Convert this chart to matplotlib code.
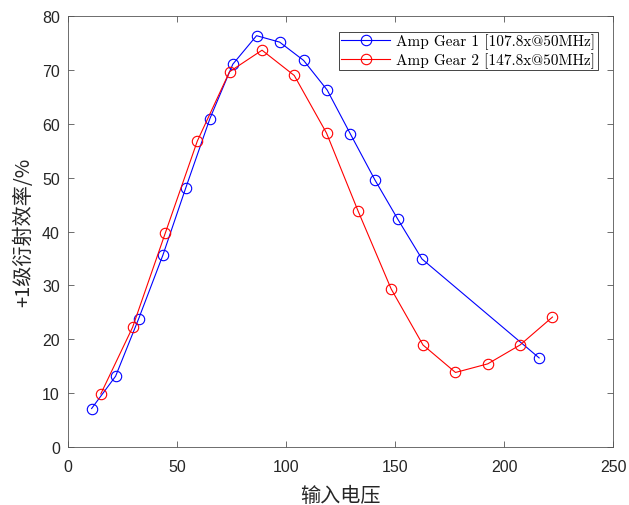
import numpy as np
import matplotlib
matplotlib.use("Agg")
import matplotlib.pyplot as plt

plt.rcParams['font.family'] = ['Liberation Sans', 'DejaVu Sans']

# input voltage vs. +1 order diffraction efficiency
v_gear1 = [10.7, 21.7, 32.3, 43.4, 53.9, 65.0, 75.5, 86.4, 97.0, 108.0,
           118.8, 129.5, 140.7, 151.2, 162.3, 216.1]
eff_gear1 = [7.1, 13.1, 23.8, 35.6, 48.1, 61.0, 71.1, 76.4, 75.2, 71.8,
             66.3, 58.1, 49.6, 42.3, 34.9, 16.5]

v_gear2 = [14.9, 29.5, 44.5, 59.2, 74.0, 88.9, 103.7, 118.5, 133.0, 148.2,
           162.8, 177.7, 192.5, 207.3, 222.2]
eff_gear2 = [9.8, 22.2, 39.7, 56.8, 69.7, 73.7, 69.0, 58.3, 43.8, 29.3,
             18.9, 13.8, 15.4, 18.9, 24.1]

labels = ['Amp Gear 1 [107.8x@50MHz]', 'Amp Gear 2 [147.8x@50MHz]']

fig = plt.figure(figsize=(6.29, 5.06), dpi=100)
ax = fig.add_axes([0.1086, 0.1152, 0.866, 0.8506])

ax.plot(v_gear1, eff_gear1, 'o-', color='b', lw=0.8, mfc='none', ms=7.5,
        mew=0.8, label=labels[0])
ax.plot(v_gear2, eff_gear2, 'o-', color='r', lw=0.8, mfc='none', ms=7.5,
        mew=0.8, label=labels[1])

ax.set_xlim(0, 250)
ax.set_ylim(0, 80)
ax.set_xticks(np.arange(0, 251, 50))
ax.set_yticks(np.arange(0, 81, 10))

axcol = '#262626'
for s in ax.spines.values():
    s.set_color('#555555')
    s.set_linewidth(0.6)
ax.tick_params(direction='in', top=True, right=True, length=4, width=0.6,
               color='#555555', labelsize=11.5, labelcolor=axcol, pad=6)
ax.tick_params(axis='x', pad=9)

cjk = ['Noto Sans CJK SC', 'DejaVu Sans']
ax.set_xlabel('输入电压', family=cjk, fontsize=14.5, color=axcol, labelpad=8)
ax.set_ylabel('+1级衍射效率/%', family=cjk, fontsize=14.5, color=axcol,
              weight='medium', labelpad=6)

leg = ax.legend(loc='upper right', prop={'family': ['cmr10', 'DejaVu Serif'],
                                          'size': 11},
                fancybox=False, edgecolor=axcol, framealpha=1,
                borderaxespad=1.0, handlelength=3.2, borderpad=0.15,
                labelspacing=0.2, handletextpad=0.4)
leg.get_frame().set_linewidth(0.6)

fig.savefig('out.png', dpi=100)
